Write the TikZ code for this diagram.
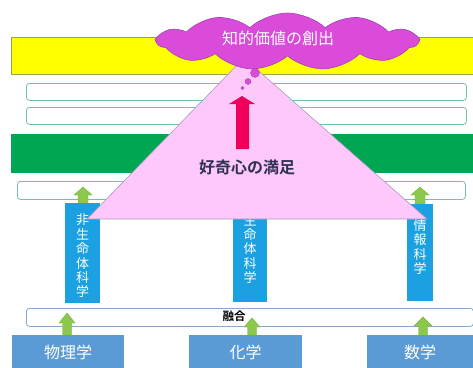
\documentclass[tikz,border=0pt]{standalone}
\usepackage{fontspec}
\newfontfamily\jp{Noto Sans CJK JP}
\newfontfamily\jpb{Noto Sans CJK JP Bold}
\usetikzlibrary{shapes.symbols}
\definecolor{ybar}{HTML}{FFFF00}
\definecolor{ybord}{HTML}{8FA845}
\definecolor{tealb}{HTML}{72C2A6}
\definecolor{blueb}{HTML}{86AACB}
\definecolor{gbar}{HTML}{00A651}
\definecolor{tri}{HTML}{FFC8FA}
\definecolor{trib}{HTML}{A29CC0}
\definecolor{cloudf}{HTML}{DA4BDA}
\definecolor{cloudb}{HTML}{A040B8}
\definecolor{redar}{HTML}{F0005C}
\definecolor{vblue}{HTML}{1BA1E2}
\definecolor{bblue}{HTML}{5B9BD5}
\definecolor{garrow}{HTML}{8CC84B}
\definecolor{garrowb}{HTML}{7AB040}
\definecolor{navy}{HTML}{2E3156}
\newcommand{\upblock}[7]{\filldraw[#1] (#2,#3) -- ({#2+#5},{#3+#7}) -- ({#2+#6},{#3+#7}) -- ({#2+#6},#4) -- ({#2-#6},#4) -- ({#2-#6},{#3+#7}) -- ({#2-#5},{#3+#7}) -- cycle;}
\tikzset{
  bandbox/.style={draw=tealb, fill=white, rounded corners=3pt, line width=0.8pt, inner sep=0pt, anchor=north west},
  vbox/.style={fill=vblue, inner sep=0pt, anchor=north west},
  vtext/.style={text=white, font=\jp\fontsize{13}{14.4}\selectfont, align=center, inner sep=0pt},
  bbox/.style={fill=bblue, inner sep=0pt, anchor=north west},
  btext/.style={text=white, font=\jp\fontsize{16}{18}\selectfont, inner sep=0pt},
  garr/.style={fill=garrow, draw=garrowb, line width=0.4pt},
}
\begin{document}
\begin{tikzpicture}[x=1pt,y=-1pt]
\useasboundingbox (0,0) rectangle (473,367);
\fill[white] (0,0) rectangle (473,367);
% bands
\node[draw=ybord, fill=ybar, line width=0.8pt, minimum width=463pt, minimum height=37pt, inner sep=0pt, anchor=north west] (yellowbar) at (11,37) {};
\node[bandbox, minimum width=440pt, minimum height=17pt] (band1) at (26,83) {};
\node[bandbox, minimum width=440pt, minimum height=17pt] (band2) at (26,107) {};
\node[fill=gbar, minimum width=463pt, minimum height=39pt, inner sep=0pt, anchor=north west] (greenbar) at (11,134) {};
\node[bandbox, minimum width=448pt, minimum height=18pt] (band3) at (17,181) {};
% small green arrows above vertical boxes
\upblock{garr}{83}{187}{204}{9}{5}{8}
\upblock{garr}{420}{187}{204}{9}{5}{8}
% vertical boxes
\node[vbox, minimum width=35pt, minimum height=100pt] (vleft) at (65,203) {};
\node[vbox, minimum width=34pt, minimum height=102pt] (vmid) at (233,200) {};
\node[vbox, minimum width=26pt, minimum height=97pt] (vright) at (407,204) {};
\node[vtext] (vlefttxt) at (82.5,256) {非\\生\\命\\体\\科\\学};
\node[vtext] (vmidtxt) at (250,249) {生\\命\\体\\科\\学};
\node[vtext] (vrighttxt) at (420,247) {情\\報\\科\\学};
% triangle
\filldraw[fill=tri, draw=trib, line width=0.6pt] (244,58) -- (87,219) -- (427,219) -- cycle;
% red arrow
\fill[redar] (242,96) -- (255,104) -- (249,104) -- (249,149) -- (236,149) -- (236,104) -- (229,104) -- cycle;
% thought bubbles
\filldraw[fill=cloudf, draw=cloudb, line width=0.3pt] (255,73) circle (4.5);
\filldraw[fill=cloudf, draw=cloudb, line width=0.3pt] (248,81.5) circle (3);
\filldraw[fill=cloudf, draw=cloudb, line width=0.3pt] (242.5,88) circle (1.7);
% cloud
\node[cloud, cloud puffs=11, cloud puff arc=85, cloud ignores aspect, minimum width=260pt, minimum height=57pt, inner sep=0pt, fill=cloudf, draw=cloudb, line width=0.6pt] (cloud) at (287.5,41.5) {};
\node[text=white, font=\jp\fontsize{16}{18}\selectfont, inner sep=0pt] (cloudtxt) at (278,38.5) {知的価値の創出};
\node[text=navy, font=\jpb\fontsize{16}{18}\selectfont, inner sep=0pt] (satisfy) at (247,167) {好奇心の満足};
% bottom band
\node[bandbox, draw=blueb, minimum width=447pt, minimum height=18pt] (band4) at (26,308) {};
\node[text=black, font=\jpb\fontsize{11.5}{12}\selectfont, inner sep=0pt] (fusion) at (234,316) {融合};
% bottom green arrows
\upblock{garr}{67}{313}{338}{8}{4.5}{10}
\upblock{garr}{252}{318}{338}{8}{4.5}{9}
\upblock{garr}{423}{317}{338}{9}{4.5}{9}
% bottom boxes
\node[bbox, minimum width=112pt, minimum height=33pt] (phys) at (12,335) {};
\node[bbox, minimum width=113pt, minimum height=33pt] (chem) at (189,335) {};
\node[bbox, minimum width=107pt, minimum height=33pt] (math) at (367,335) {};
\node[btext] (phystxt) at (68,352) {物理学};
\node[btext] (chemtxt) at (245.5,352) {化学};
\node[btext] (mathtxt) at (420,352) {数学};
\end{tikzpicture}
\end{document}
